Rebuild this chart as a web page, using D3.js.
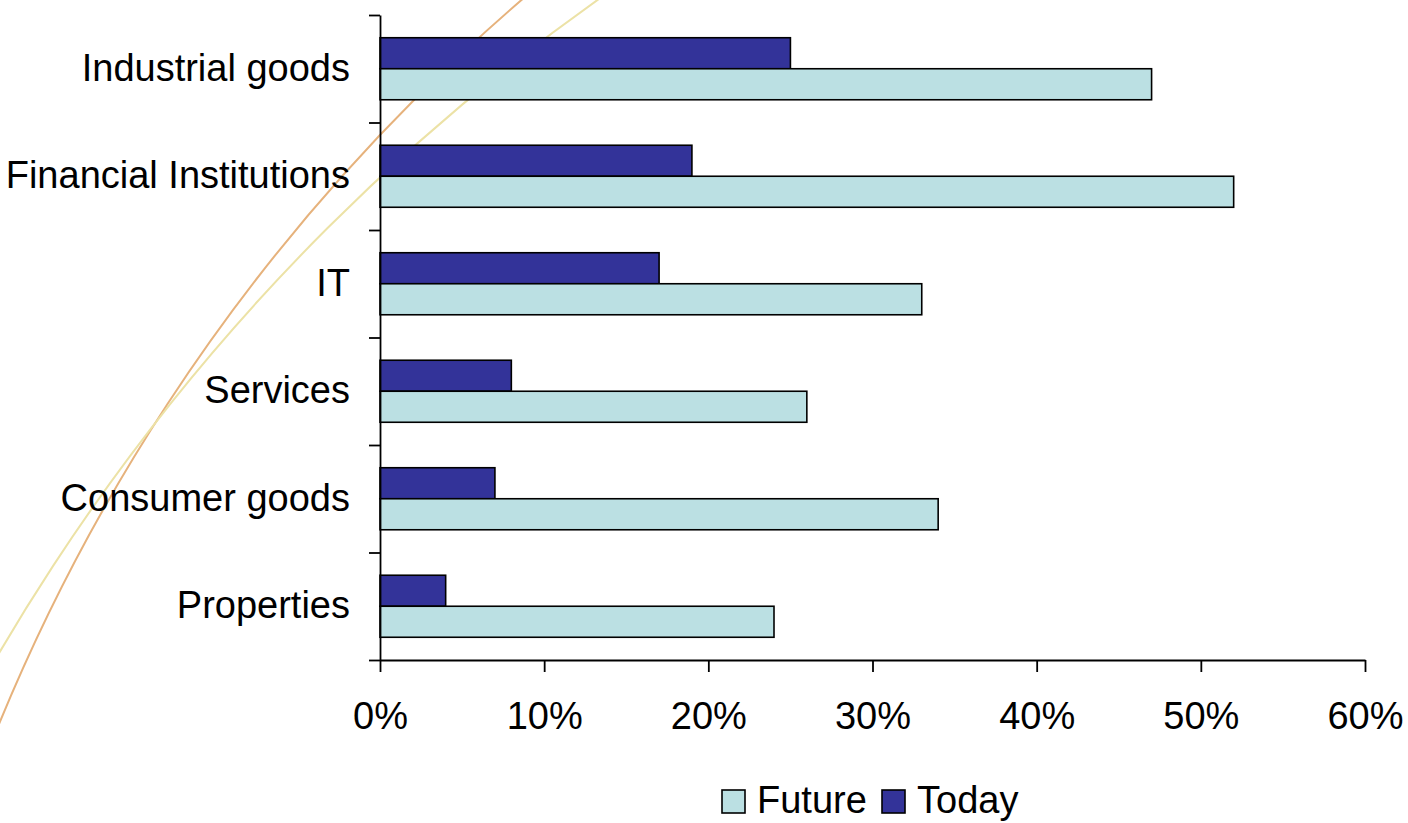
<!DOCTYPE html>
<html>
<head>
<meta charset="utf-8">
<script src="https://cdn.jsdelivr.net/npm/d3@7"></script>
<style>
  html, body { margin: 0; padding: 0; background: #fff; }
  svg { display: block; }
  text { font-family: "Liberation Sans", Arial, sans-serif; fill: #000; }
</style>
</head>
<body>
<svg id="chart" width="1408" height="823"></svg>
<script>
const categories = ["Industrial goods", "Financial Institutions", "IT", "Services", "Consumer goods", "Properties"];
const seriesNames = ["Today", "Future"];
const todayValues = [0.25, 0.19, 0.17, 0.08, 0.07, 0.04];
const futureValues = [0.47, 0.52, 0.33, 0.26, 0.34, 0.24];
const xTicks = [0, 0.1, 0.2, 0.3, 0.4, 0.5, 0.6];
const legendItems = ["Future", "Today"];

const colors = { Today: "#333399", Future: "#BBE0E3" };

const svg = d3.select("#chart");
const W = 1408, H = 823;
const margin = { left: 380, right: 43, top: 15, bottom: 163 };
const innerW = W - margin.left - margin.right;
const innerH = H - margin.top - margin.bottom;

// decorative background arcs
const deco = svg.append("g");
deco.append("circle").attr("cx", 1772).attr("cy", 1453).attr("r", 1917)
  .attr("fill", "none").attr("stroke", "#e6b27c").attr("stroke-width", 2);
deco.append("circle").attr("cx", 1820).attr("cy", 1721).attr("r", 2111)
  .attr("fill", "none").attr("stroke", "#ece2a6").attr("stroke-width", 2);

const g = svg.append("g").attr("transform", `translate(${margin.left},${margin.top})`);

const x = d3.scaleLinear().domain([0, 0.6]).range([0, innerW]);
const pi = 0.423;
const y = d3.scaleBand().domain(categories).range([0, innerH]).paddingInner(pi).paddingOuter(pi / 2);
const ySub = d3.scaleBand().domain(seriesNames).range([0, y.bandwidth()]);

const rows = categories.map((c, i) => ({ cat: c, Today: todayValues[i], Future: futureValues[i] }));

const groups = g.selectAll("g.row").data(rows).join("g")
  .attr("class", "row")
  .attr("transform", d => `translate(0,${y(d.cat)})`);

groups.selectAll("rect").data(d => seriesNames.map(s => ({ s, v: d[s] }))).join("rect")
  .attr("x", 0)
  .attr("y", d => ySub(d.s))
  .attr("width", d => x(d.v))
  .attr("height", ySub.bandwidth())
  .attr("fill", d => colors[d.s])
  .attr("stroke", "#000")
  .attr("stroke-width", 1.6);

// y axis with ticks at band boundaries
const yb = d3.scaleLinear().domain([0, categories.length]).range([0, innerH]);
const yAxis = g.append("g").call(d3.axisLeft(yb).tickValues(d3.range(categories.length + 1)).tickSize(11).tickSizeOuter(0).tickFormat(""));
yAxis.selectAll("line, path").attr("stroke", "#000").attr("stroke-width", 1.8);

// category labels
g.selectAll("text.cat").data(categories).join("text")
  .attr("class", "cat")
  .attr("x", -30)
  .attr("y", d => y(d) + y.bandwidth() / 2)
  .attr("dy", "0.32em")
  .attr("text-anchor", "end")
  .style("font-size", "38px")
  .text(d => d);

// x axis
const xAxis = g.append("g").attr("transform", `translate(0,${innerH})`)
  .call(d3.axisBottom(x).tickValues(xTicks).tickSize(12).tickSizeOuter(0).tickPadding(30).tickFormat(d3.format(".0%")));
xAxis.selectAll("line, path").attr("stroke", "#000").attr("stroke-width", 1.8);
xAxis.selectAll("text").style("font-size", "38px").style("font-family", "'Liberation Sans', Arial, sans-serif").attr("fill", "#000");

// legend
const legend = svg.append("g").attr("transform", "translate(722,790)");
const legendX = [0, 160];
legendItems.forEach((name, i) => {
  const lg = legend.append("g").attr("transform", `translate(${legendX[i]},0)`);
  lg.append("rect").attr("x", 0).attr("y", 0).attr("width", 23).attr("height", 23)
    .attr("fill", colors[name]).attr("stroke", "#000").attr("stroke-width", 1.6);
  lg.append("text").attr("x", 35).attr("y", 23).style("font-size", "38px").text(name);
});
</script>
</body>
</html>
